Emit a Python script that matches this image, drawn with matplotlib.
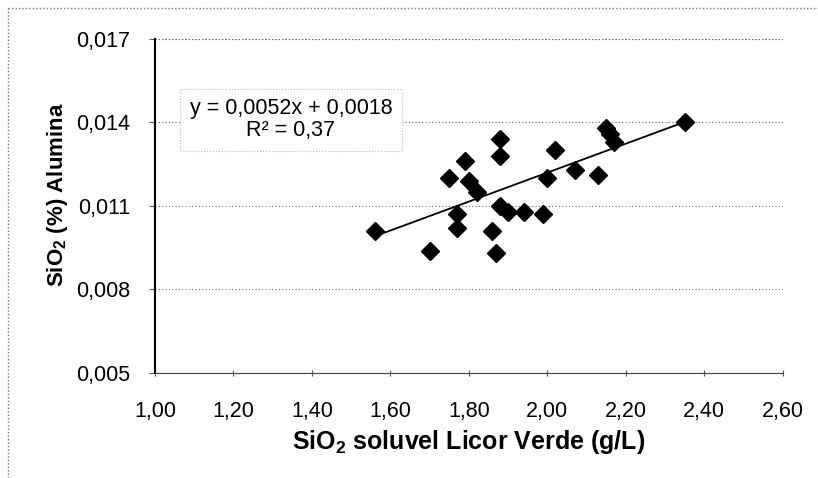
import numpy as np
import matplotlib
matplotlib.use("Agg")
from matplotlib import pyplot as plt
from matplotlib.lines import Line2D

plt.rcParams['font.family'] = ['Liberation Sans', 'DejaVu Sans']
plt.rcParams['mathtext.fontset'] = 'custom'
plt.rcParams['mathtext.rm'] = 'Liberation Sans'
plt.rcParams['mathtext.bf'] = 'Liberation Sans:bold'

# data
sio2_licor = [1.56, 1.70, 1.77, 1.77, 1.75, 1.79, 1.80, 1.82, 1.88, 1.88,
              1.86, 1.87, 1.88, 1.90, 1.94, 1.99, 2.00, 2.02, 2.07, 2.13,
              2.15, 2.16, 2.17, 2.35]
sio2_alumina = [0.0101, 0.0094, 0.0107, 0.0102, 0.0120, 0.0126, 0.0119, 0.0115,
                0.0134, 0.0128, 0.0101, 0.0093, 0.0110, 0.0108, 0.0108, 0.0107,
                0.0120, 0.0130, 0.0123, 0.0121, 0.0138, 0.0136, 0.0133, 0.0140]
slope = 0.0052
intercept = 0.0018
r2 = 0.37

x_ticks = [1.0, 1.2, 1.4, 1.6, 1.8, 2.0, 2.2, 2.4, 2.6]
y_ticks = [0.005, 0.008, 0.011, 0.014, 0.017]

fig = plt.figure(figsize=(8.18, 4.78), dpi=100)
ax = fig.add_axes([0.1895, 0.2197, 0.7675, 0.6987])

ax.plot(sio2_licor, sio2_alumina, 'D', color='black', markersize=9.5, zorder=3)
xl = np.array([min(sio2_licor), max(sio2_licor)])
ax.plot(xl, slope*xl + intercept, color='black', lw=1.3, zorder=2)

ax.set_xlim(1.0, 2.6)
ax.set_ylim(0.005, 0.017)
ax.set_xticks(x_ticks)
ax.set_yticks(y_ticks)
ax.set_xticklabels([('%.2f' % v).replace('.', ',') for v in x_ticks])
ax.set_yticklabels([('%.3f' % v).replace('.', ',') for v in y_ticks])
ax.tick_params(axis='both', labelsize=15.5, length=4, color='#555555')
ax.tick_params(axis='x', direction='inout', pad=18)
ax.tick_params(axis='y', direction='out', pad=14)

ax.grid(axis='y', linestyle=(0, (1, 2)), color='#666666', lw=0.8)
ax.spines['top'].set_visible(False)
ax.spines['right'].set_visible(False)
ax.spines['left'].set_linewidth(1.5)
ax.spines['bottom'].set_color('#444444')
ax.axhline(0.017, linestyle=(0, (1, 2)), color='#666666', lw=0.8)

ax.set_xlabel(r'SiO$_\mathbf{2}$ soluvel Licor Verde (g/L)', fontsize=18,
              fontweight='bold')
ax.set_ylabel(r'SiO$_\mathbf{2}$ (%) Alumina', fontsize=16,
              fontweight='bold')
ax.xaxis.set_label_coords(0.5, -0.165)
ax.yaxis.set_label_coords(-0.135, 0.533)

eq = 'y = %sx + %s\nR² = %s' % (('%.4f' % slope).replace('.', ','),
                                 ('%.4f' % intercept).replace('.', ','),
                                 ('%.2f' % r2).replace('.', ','))
ax.text(1.3465, 0.0141, eq, fontsize=15.5, ha='center', va='center',
        linespacing=1.05,
        bbox=dict(boxstyle='square,pad=0.45', fc='white', ec='#bbbbbb',
                  lw=0.8, ls=':'), zorder=4)

# outer chart frame
fig.add_artist(Line2D([8/818, 8/818], [0, 1-8/478], transform=fig.transFigure,
                      color='#777777', lw=1, ls=(0, (1, 1.5))))
fig.add_artist(Line2D([8/818, 1], [1-8/478, 1-8/478], transform=fig.transFigure,
                      color='#777777', lw=1, ls=(0, (1, 1.5))))

fig.savefig('out.png', dpi=100)
